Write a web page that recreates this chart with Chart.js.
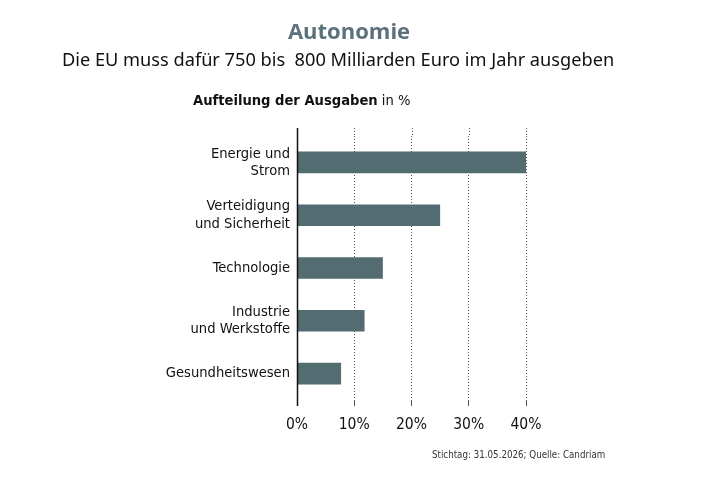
<!DOCTYPE html>
<html>
<head>
<meta charset="utf-8">
<script src="https://cdn.jsdelivr.net/npm/chart.js@4"></script>
<style>
  body { margin: 0; background: #fff; }
  #wrap { width: 708px; height: 484px; }
</style>
</head>
<body>
<div id="wrap"><canvas id="chart" width="708" height="484"></canvas></div>
<script>
const categories = [
  ['Energie und', 'Strom'],
  ['Verteidigung', 'und Sicherheit'],
  'Technologie',
  ['Industrie', 'und Werkstoffe'],
  'Gesundheitswesen'
];
const shares = [40, 25, 15, 11.8, 7.7];
const tickValues = [0, 10, 20, 30, 40];

const barColor = '#526c72';
const labelFont = "'DejaVu Sans Condensed', 'DejaVu Sans', sans-serif";

// headings, source line and the short extensions of the axis lines
const decorations = {
  id: 'decorations',
  afterDraw(chart) {
    const ctx = chart.ctx;
    const area = chart.chartArea;
    const x = chart.scales.x;
    ctx.save();

    ctx.fillStyle = '#5b717b';
    ctx.font = "bold 22px 'Open Sans', sans-serif";
    ctx.textAlign = 'center';
    ctx.textBaseline = 'middle';
    ctx.fillText('Autonomie', 349, 33);

    ctx.fillStyle = '#111';
    ctx.font = "18.2px 'Noto Sans', sans-serif";
    ctx.textAlign = 'left';
    ctx.fillText('Die EU muss dafür 750 bis  800 Milliarden Euro im Jahr ausgeben', 62, 61);

    ctx.font = 'bold 14.6px ' + labelFont;
    const head = 'Aufteilung der Ausgaben';
    ctx.fillText(head, 193, 101);
    const w = ctx.measureText(head).width;
    ctx.font = '14.6px ' + labelFont;
    ctx.fillText(' in %', 193 + w, 101);

    ctx.fillStyle = '#333';
    ctx.font = '9.7px ' + labelFont;
    ctx.fillText('Stichtag: 31.05.2026; Quelle: Candriam', 432, 455);

    tickValues.forEach(v => {
      const px = Math.round(x.getPixelForValue(v)) + 0.5;
      ctx.beginPath();
      if (v === 0) {
        ctx.setLineDash([]);
        ctx.strokeStyle = '#111';
        ctx.lineWidth = 1.5;
        ctx.moveTo(px, area.top - 8);
        ctx.lineTo(px, area.bottom + 6);
      } else {
        ctx.setLineDash([1, 2]);
        ctx.strokeStyle = '#555';
        ctx.lineWidth = 1;
        ctx.moveTo(px, area.top - 8);
        ctx.lineTo(px, area.top);
      }
      ctx.stroke();
    });
    ctx.restore();
  }
};

new Chart(document.getElementById('chart'), {
  type: 'bar',
  data: {
    labels: categories,
    datasets: [{
      data: shares,
      backgroundColor: barColor,
      borderWidth: 0,
      categoryPercentage: 1,
      barPercentage: 0.41
    }]
  },
  options: {
    indexAxis: 'y',
    responsive: false,
    animation: false,
    layout: { padding: { left: 0, right: 182, top: 136, bottom: 44 } },
    plugins: { legend: { display: false }, tooltip: { enabled: false } },
    scales: {
      x: {
        min: 0,
        max: 40,
        afterFit: s => { s.height = 40; },
        afterBuildTicks: s => { s.ticks = tickValues.map(v => ({ value: v })); },
        grid: {
          color: '#555',
          lineWidth: 1,
          tickLength: 6,
          drawOnChartArea: true
        },
        border: { display: false, dash: [1, 2] },
        ticks: {
          padding: 10,
          color: '#111',
          font: { family: labelFont, size: 15.5 },
          callback: v => v + '%'
        }
      },
      y: {
        afterFit: s => { s.width = 297; },
        grid: { display: false, drawTicks: false, tickLength: 0 },
        border: { display: false },
        ticks: {
          padding: 7,
          color: '#111',
          font: { family: labelFont, size: 14.6, lineHeight: 1.18 }
        }
      }
    }
  },
  plugins: [decorations]
});
</script>
</body>
</html>
